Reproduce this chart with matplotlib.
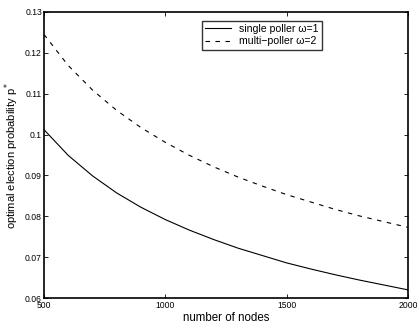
import matplotlib
matplotlib.use("Agg")
import matplotlib.pyplot as plt

plt.rcParams['font.family'] = ['Liberation Sans', 'DejaVu Sans']

nodes = [500, 600, 700, 800, 900, 1000, 1100, 1200, 1300, 1400, 1500,
         1600, 1700, 1800, 1900, 2000]
single_poller = [0.1012, 0.0949, 0.0899, 0.0857, 0.0822, 0.0792, 0.0766, 0.0743,
                 0.0722, 0.0704, 0.0686, 0.0671, 0.0657, 0.0644, 0.0632, 0.0620]
multi_poller = [0.1245, 0.1169, 0.1109, 0.1059, 0.1017, 0.0981, 0.0949, 0.0921,
                0.0896, 0.0874, 0.0853, 0.0835, 0.0817, 0.0801, 0.0787, 0.0773]
xticks = [500, 1000, 1500, 2000]
yticks = [0.06, 0.07, 0.08, 0.09, 0.10, 0.11, 0.12, 0.13]
ytick_labels = ["0.06", "0.07", "0.08", "0.09", "0.1", "0.11", "0.12", "0.13"]

fig = plt.figure(figsize=(4.17, 3.24), dpi=100)
ax = fig.add_axes([0.1055, 0.0802, 0.8725, 0.8828])

ax.plot(nodes, single_poller, color='black', linewidth=0.8, linestyle='-',
        label='single poller \u03c9=1')
ax.plot(nodes, multi_poller, color='black', linewidth=0.8, linestyle=(0, (4, 5)),
        label='multi\u2212poller \u03c9=2')

ax.set_xlim(500, 2000)
ax.set_ylim(0.06, 0.13)
ax.set_xticks(xticks)
ax.set_xticklabels([str(t) for t in xticks])
ax.set_yticks(yticks)
ax.set_yticklabels(ytick_labels)
ax.tick_params(direction='in', top=True, right=True, length=3, width=0.6,
               labelsize=6.2, colors='black')
ax.tick_params(axis='y', pad=1.5)
ax.tick_params(axis='x', pad=2.5)
for s in ax.spines.values():
    s.set_linewidth(1.2)

ax.set_xlabel('number of nodes', fontsize=8.3, labelpad=1)
ax.set_ylabel('optimal election probability p$^*$', fontsize=8, labelpad=3)

leg = ax.legend(loc='upper left', bbox_to_anchor=(0.435, 0.97), fontsize=7.6,
                frameon=True, fancybox=False, handlelength=2.4, borderpad=0.3,
                labelspacing=0.25, handletextpad=0.8, borderaxespad=0)
leg.get_frame().set_edgecolor('black')
leg.get_frame().set_linewidth(1.0)

fig.savefig('out.png', dpi=100)
